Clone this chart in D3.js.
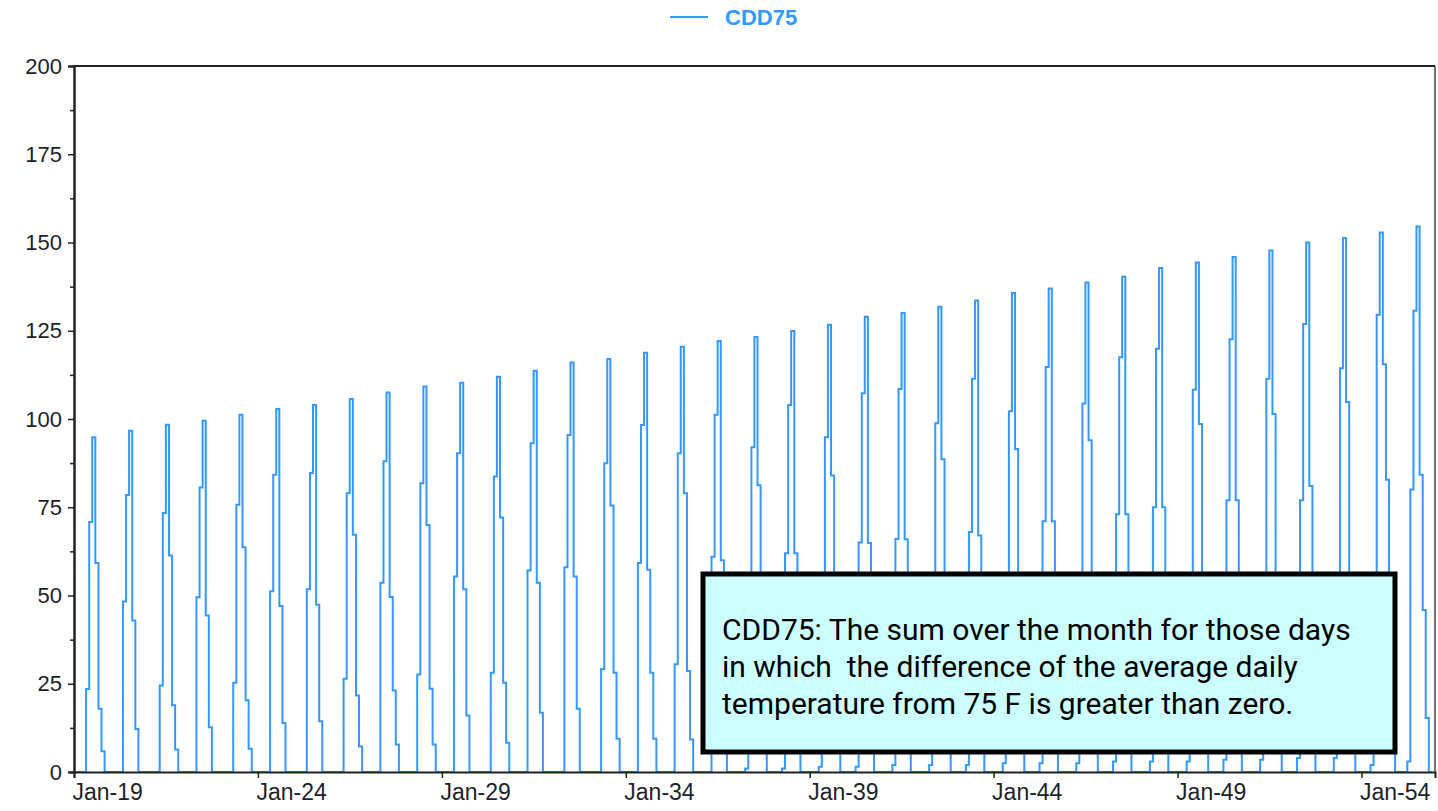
<!DOCTYPE html>
<html>
<head>
<meta charset="utf-8">
<script src="https://cdn.jsdelivr.net/npm/d3@7"></script>
<style>
  body { margin: 0; background: #fff; }
  .tick text { font-family: "Liberation Sans", Arial, sans-serif; font-size: 22px; fill: #1f1f2a; }
  .xaxis .tick text { font-size: 23px; }
</style>
</head>
<body>
<div id="chart"></div>
<script>
// years on the chart, one spike each
const years = [2019, 2020, 2021, 2022, 2023, 2024, 2025, 2026, 2027, 2028,
  2029, 2030, 2031, 2032, 2033, 2034, 2035, 2036, 2037, 2038,
  2039, 2040, 2041, 2042, 2043, 2044, 2045, 2046, 2047, 2048,
  2049, 2050, 2051, 2052, 2053, 2054, 2055];

// monthly CDD75 values (other months are 0)
const apr = [0, 0, 0, 0, 0, 0, 0, 0, 0, 0,
  0, 0, 0, 0, 0, 0, 0, 0, 1, 1,
  1.5, 1.5, 2, 2, 2, 2.5, 2.5, 2.5, 3, 3,
  3, 3.5, 3.5, 4, 4, 2, 3];
const may = [23.5, 48.3, 24.5, 49.5, 25.3, 51.2, 51.8, 26.4, 53.6, 27.6,
  55.4, 28.1, 57.1, 58, 29.2, 59.2, 30.5, 61, 31, 62,
  32, 65, 66, 33, 68, 34, 71, 35, 73, 75,
  36, 77, 37, 77, 38, 40, 80];
const jun = [70.8, 78.5, 73.4, 80.6, 75.7, 84.2, 84.7, 79, 88, 81.8,
  90.3, 83.7, 93.1, 95.5, 87.5, 98.3, 90.3, 101.2, 92, 104,
  94.8, 107.3, 108.5, 98.8, 111.4, 102.2, 114.7, 104.4, 117.5, 119.9,
  108.3, 122.6, 111.4, 126.9, 114.4, 129.5, 130.7];
const jul = [94.8, 96.7, 98.4, 99.5, 101.2, 102.8, 104, 105.7, 107.5, 109.2,
  110.3, 112, 113.7, 116, 117, 118.8, 120.5, 122.1, 123.2, 124.9,
  126.7, 129, 130, 131.8, 133.6, 135.7, 137, 138.7, 140.3, 142.8,
  144.3, 145.9, 147.7, 150, 151.3, 152.8, 154.5];
const aug = [59.2, 42.9, 61.3, 44.3, 63.7, 47, 47.4, 67.2, 49.6, 70,
  51.8, 72.1, 53.6, 55.4, 75.5, 57.3, 79, 60, 81.2, 62,
  84, 64.9, 65.9, 88.6, 67, 91.5, 71, 94, 73, 75,
  98.6, 77, 101.4, 81, 104.8, 115.5, 84.2];
const sep = [17.9, 12.2, 18.9, 12.7, 20.3, 13.9, 14.4, 21.7, 23.1, 23.6,
  16, 25.3, 16.8, 17.9, 28.1, 28.1, 28.6, 19, 30, 19.5,
  31, 20, 20.5, 33, 21, 34, 22, 35, 23, 24,
  36, 25, 37, 26, 38, 82.8, 45.9];
const oct = [5.9, 0, 6.4, 0, 6.6, 0, 0, 7.2, 7.8, 7.8,
  0, 8.3, 0, 0, 9.4, 9.4, 9.2, 0, 10, 0,
  10.5, 0, 0, 11, 0, 12, 0, 12, 0, 0,
  12.5, 0, 13, 0, 13, 40, 15.3];
const nov = [0, 0, 0, 0, 0, 0, 0, 0, 0, 0,
  0, 0, 0, 0, 0, 0, 0, 0, 0, 0,
  0, 0, 0, 0, 0, 0, 0, 0, 0, 0,
  0, 0, 0, 0, 0, 12, 0];

const yTicks = [0, 25, 50, 75, 100, 125, 150, 175, 200];
const xTickYears = [2019, 2024, 2029, 2034, 2039, 2044, 2049, 2054];
const seriesName = 'CDD75';
const noteLines = [
  'CDD75: The sum over the month for those days',
  'in which  the difference of the average daily',
  'temperature from 75 F is greater than zero.'
];

// build the monthly series
let series = [];
years.forEach((yr, i) => {
  let byMonth = {3: apr[i], 4: may[i], 5: jun[i], 6: jul[i], 7: aug[i], 8: sep[i], 9: oct[i], 10: nov[i]};
  for (let m = 0; m < 12; m++) {
    series.push({date: new Date(yr, m, 1), value: byMonth[m] || 0});
  }
});

const W = 1438, H = 811;
const margin = {top: 66, right: 3, bottom: 39, left: 74};
let w = W - margin.left - margin.right;
let h = H - margin.top - margin.bottom;
const blue = '#3399ff';

let svg = d3.select('#chart').append('svg')
  .attr('width', W)
  .attr('height', H);

let g = svg.append('g').attr('transform', `translate(${margin.left}, ${margin.top})`);

let xScale = d3.scaleTime()
  .domain([new Date(2019, 0, 1), new Date(2056, 0, 1)])
  .range([0, w]);
let yScale = d3.scaleLinear()
  .domain([0, 200])
  .range([h, 0]);

// the series (drawn first so the axes sit on top of the zero stretches)
let line = d3.line()
  .x(d => xScale(d.date))
  .y(d => yScale(d.value))
  .curve(d3.curveStepAfter);

g.append('path')
  .datum(series)
  .attr('d', line)
  .style('fill', 'none')
  .style('stroke', blue)
  .style('stroke-width', 2);

// frame top / right
g.append('line').attr('x1', 0).attr('x2', w).attr('y1', 0).attr('y2', 0)
  .style('stroke', '#222').style('stroke-width', 2);
g.append('line').attr('x1', w).attr('x2', w).attr('y1', 0).attr('y2', h)
  .style('stroke', '#444').style('stroke-width', 1.5);

// y axis, with minor ticks between
let yMinor = d3.axisLeft(yScale).tickValues(d3.range(12.5, 200, 25)).tickSize(4).tickFormat('');
g.append('g').attr('class', 'axis minor').call(yMinor);
let yAxis = d3.axisLeft(yScale).tickValues(yTicks).tickSize(6).tickPadding(6);
g.append('g').attr('class', 'axis').call(yAxis);

// x axis
let xAxis = d3.axisBottom(xScale)
  .tickValues(xTickYears.map(y => new Date(y, 0, 1)))
  .tickSize(6)
  .tickFormat(d3.timeFormat('%b-%y'));
let xAxisCont = g.append('g').attr('class', 'axis xaxis')
  .attr('transform', `translate(0, ${h})`)
  .call(xAxis);
xAxisCont.selectAll('.tick text').attr('text-anchor', 'start').attr('dx', -2).attr('dy', '0.82em');

g.selectAll('.axis .domain').style('stroke', '#222').style('stroke-width', 2);
g.selectAll('.axis .tick line').style('stroke', '#222').style('stroke-width', 1.5);

// legend
let legend = svg.append('g').attr('transform', 'translate(670, 17)');
legend.append('line').attr('x1', 0).attr('x2', 38).attr('y1', 0).attr('y2', 0)
  .style('stroke', blue).style('stroke-width', 2);
legend.append('text').attr('x', 55).attr('y', 8)
  .style('font-family', '"Liberation Sans", Arial, sans-serif')
  .style('font-size', '22px').style('font-weight', 'bold')
  .style('fill', blue)
  .text(seriesName);

// note box
let note = svg.append('g').attr('transform', 'translate(703, 574)');
note.append('rect')
  .attr('width', 692).attr('height', 178)
  .style('fill', '#ccffff')
  .style('stroke', '#000').style('stroke-width', 5);
note.selectAll('text.note')
  .data(noteLines)
  .enter().append('text')
  .attr('class', 'note')
  .attr('x', 19)
  .attr('y', (d, i) => 66 + i * 37)
  .style('font-family', 'Roboto, "Noto Sans", sans-serif')
  .style('font-size', '30px')
  .style('fill', '#000')
  .style('white-space', 'pre')
  .text(d => d);
</script>
</body>
</html>
